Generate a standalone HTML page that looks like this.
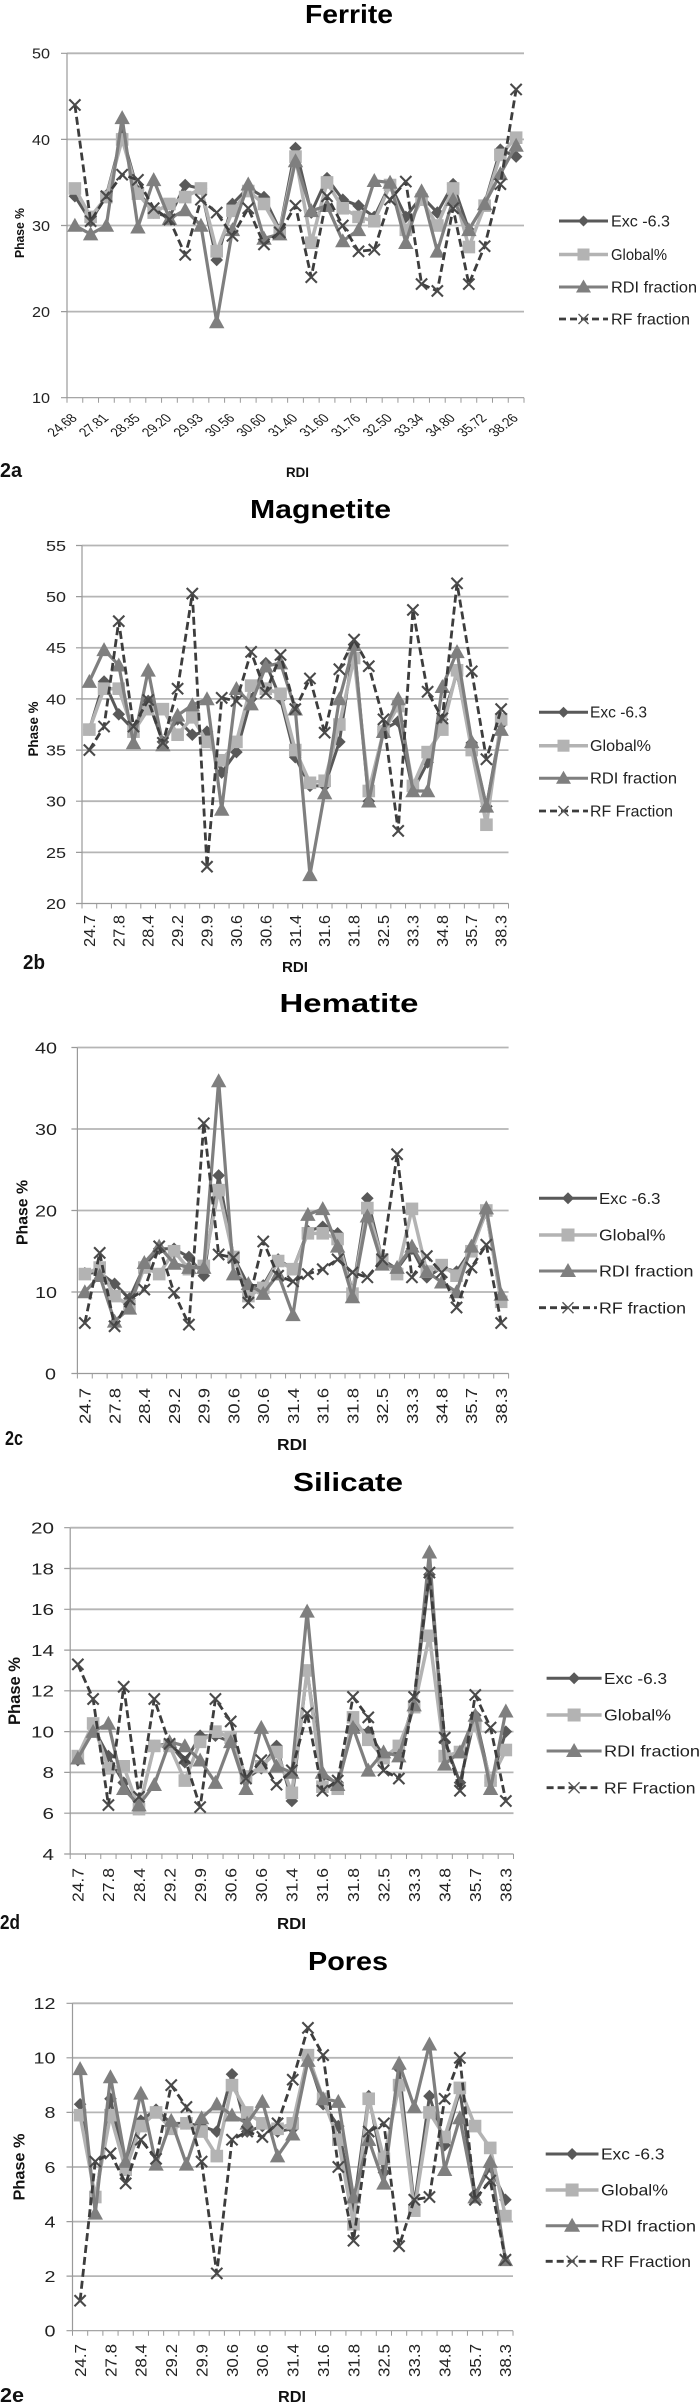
<!DOCTYPE html>
<html><head><meta charset="utf-8"><style>
html,body{margin:0;padding:0;background:#fff}
svg{display:block}
text{font-family:"Liberation Sans",sans-serif;fill:#222}
.t{font-size:26px;font-weight:bold;fill:#000}
.yl{font-size:15px;text-anchor:end}
.yl2{font-size:16px;text-anchor:end}
.xl{font-size:16px;text-anchor:end}
.fxl{font-size:12.5px;text-anchor:end;fill:#1a1a1a}
.b{font-weight:bold;fill:#111}
.lg{font-size:16px}
.grid{stroke:#b5b5b5;stroke-width:1.8}
.ax{stroke:#9a9a9a;stroke-width:1.2;fill:none}
polyline{fill:none;stroke-linejoin:round}
.se{stroke:#595959;stroke-width:3}
.sg{stroke:#b3b3b3;stroke-width:3.5}
.sr{stroke:#7f7f7f;stroke-width:3.2}
.sf{stroke:#3d3d3d;stroke-width:2.8;stroke-dasharray:8 4}
</style></head><body>
<svg width="700" height="2404" viewBox="0 0 700 2404" xmlns="http://www.w3.org/2000/svg">
<defs>
<marker id="fd" overflow="visible" markerUnits="userSpaceOnUse" markerWidth="0.7615" markerHeight="1.3937" viewBox="1.714 1.714 8.571 8.571" refX="6" refY="6" preserveAspectRatio="none"><polygon points="6,1.5 10.5,6 6,10.5 1.5,6" fill="#595959"/></marker>
<marker id="fs" overflow="visible" markerUnits="userSpaceOnUse" markerWidth="0.7615" markerHeight="1.3937" viewBox="1.714 1.714 8.571 8.571" refX="6" refY="6" preserveAspectRatio="none"><rect x="1.5" y="1.5" width="9" height="9" fill="#b3b3b3"/></marker>
<marker id="ft" overflow="visible" markerUnits="userSpaceOnUse" markerWidth="0.7615" markerHeight="1.3937" viewBox="1.714 1.714 8.571 8.571" refX="6" refY="6" preserveAspectRatio="none"><polygon points="0.5,1.5 11.5,1.5 6,11.5" fill="#7f7f7f"/></marker>
<marker id="fx" overflow="visible" markerUnits="userSpaceOnUse" markerWidth="0.7615" markerHeight="1.3937" viewBox="1.714 1.714 8.571 8.571" refX="6" refY="6" preserveAspectRatio="none"><path d="M2,2 L10,10 M10,2 L2,10" stroke="#4a4a4a" stroke-width="1.5" fill="none"/></marker>
<marker id="md" overflow="visible" markerUnits="userSpaceOnUse" markerWidth="0.8159" markerHeight="1.1731" viewBox="1.714 1.714 8.571 8.571" refX="6" refY="6" preserveAspectRatio="none"><polygon points="6,1.5 10.5,6 6,10.5 1.5,6" fill="#595959"/></marker>
<marker id="ms" overflow="visible" markerUnits="userSpaceOnUse" markerWidth="0.8159" markerHeight="1.1731" viewBox="1.714 1.714 8.571 8.571" refX="6" refY="6" preserveAspectRatio="none"><rect x="1.5" y="1.5" width="9" height="9" fill="#b3b3b3"/></marker>
<marker id="mt" overflow="visible" markerUnits="userSpaceOnUse" markerWidth="0.8159" markerHeight="1.1731" viewBox="1.714 1.714 8.571 8.571" refX="6" refY="6" preserveAspectRatio="none"><polygon points="0.5,1.5 11.5,1.5 6,11.5" fill="#7f7f7f"/></marker>
<marker id="mx" overflow="visible" markerUnits="userSpaceOnUse" markerWidth="0.8159" markerHeight="1.1731" viewBox="1.714 1.714 8.571 8.571" refX="6" refY="6" preserveAspectRatio="none"><path d="M2,2 L10,10 M10,2 L2,10" stroke="#4a4a4a" stroke-width="1.5" fill="none"/></marker>
<marker id="hd" overflow="visible" markerUnits="userSpaceOnUse" markerWidth="0.8071" markerHeight="1.4724" viewBox="1.714 1.714 8.571 8.571" refX="6" refY="6" preserveAspectRatio="none"><polygon points="6,1.5 10.5,6 6,10.5 1.5,6" fill="#595959"/></marker>
<marker id="hs" overflow="visible" markerUnits="userSpaceOnUse" markerWidth="0.8071" markerHeight="1.4724" viewBox="1.714 1.714 8.571 8.571" refX="6" refY="6" preserveAspectRatio="none"><rect x="1.5" y="1.5" width="9" height="9" fill="#b3b3b3"/></marker>
<marker id="ht" overflow="visible" markerUnits="userSpaceOnUse" markerWidth="0.8071" markerHeight="1.4724" viewBox="1.714 1.714 8.571 8.571" refX="6" refY="6" preserveAspectRatio="none"><polygon points="0.5,1.5 11.5,1.5 6,11.5" fill="#7f7f7f"/></marker>
<marker id="hx" overflow="visible" markerUnits="userSpaceOnUse" markerWidth="0.8071" markerHeight="1.4724" viewBox="1.714 1.714 8.571 8.571" refX="6" refY="6" preserveAspectRatio="none"><path d="M2,2 L10,10 M10,2 L2,10" stroke="#4a4a4a" stroke-width="1.5" fill="none"/></marker>
<marker id="sd" overflow="visible" markerUnits="userSpaceOnUse" markerWidth="0.7850" markerHeight="0.5884" viewBox="1.714 1.714 8.571 8.571" refX="6" refY="6" preserveAspectRatio="none"><polygon points="6,1.5 10.5,6 6,10.5 1.5,6" fill="#595959"/></marker>
<marker id="ss" overflow="visible" markerUnits="userSpaceOnUse" markerWidth="0.7850" markerHeight="0.5884" viewBox="1.714 1.714 8.571 8.571" refX="6" refY="6" preserveAspectRatio="none"><rect x="1.5" y="1.5" width="9" height="9" fill="#b3b3b3"/></marker>
<marker id="st" overflow="visible" markerUnits="userSpaceOnUse" markerWidth="0.7850" markerHeight="0.5884" viewBox="1.714 1.714 8.571 8.571" refX="6" refY="6" preserveAspectRatio="none"><polygon points="0.5,1.5 11.5,1.5 6,11.5" fill="#7f7f7f"/></marker>
<marker id="sx" overflow="visible" markerUnits="userSpaceOnUse" markerWidth="0.7850" markerHeight="0.5884" viewBox="1.714 1.714 8.571 8.571" refX="6" refY="6" preserveAspectRatio="none"><path d="M2,2 L10,10 M10,2 L2,10" stroke="#4a4a4a" stroke-width="1.5" fill="none"/></marker>
<marker id="pd" overflow="visible" markerUnits="userSpaceOnUse" markerWidth="0.7900" markerHeight="0.4398" viewBox="1.714 1.714 8.571 8.571" refX="6" refY="6" preserveAspectRatio="none"><polygon points="6,1.5 10.5,6 6,10.5 1.5,6" fill="#595959"/></marker>
<marker id="ps" overflow="visible" markerUnits="userSpaceOnUse" markerWidth="0.7900" markerHeight="0.4398" viewBox="1.714 1.714 8.571 8.571" refX="6" refY="6" preserveAspectRatio="none"><rect x="1.5" y="1.5" width="9" height="9" fill="#b3b3b3"/></marker>
<marker id="pt" overflow="visible" markerUnits="userSpaceOnUse" markerWidth="0.7900" markerHeight="0.4398" viewBox="1.714 1.714 8.571 8.571" refX="6" refY="6" preserveAspectRatio="none"><polygon points="0.5,1.5 11.5,1.5 6,11.5" fill="#7f7f7f"/></marker>
<marker id="px" overflow="visible" markerUnits="userSpaceOnUse" markerWidth="0.7900" markerHeight="0.4398" viewBox="1.714 1.714 8.571 8.571" refX="6" refY="6" preserveAspectRatio="none"><path d="M2,2 L10,10 M10,2 L2,10" stroke="#4a4a4a" stroke-width="1.5" fill="none"/></marker>
</defs>
<rect width="700" height="2404" fill="#fff"/>

<!-- ===================== FERRITE ===================== -->
<text class="t" x="305" y="23" textLength="88" lengthAdjust="spacingAndGlyphs">Ferrite</text>
<g>
<line class="grid" x1="67" y1="53.3" x2="524" y2="53.3"/>
<line class="grid" x1="67" y1="139.4" x2="524" y2="139.4"/>
<line class="grid" x1="67" y1="225.5" x2="524" y2="225.5"/>
<line class="grid" x1="67" y1="311.6" x2="524" y2="311.6"/>
<line class="ax" x1="67" y1="53.3" x2="67" y2="397.7"/>
<line class="ax" x1="67" y1="397.7" x2="524" y2="397.7"/>
<path class="ax" d="M61,53.3H67M61,139.4H67M61,225.5H67M61,311.6H67M61,397.7H67"/>
<line x1="66.5" y1="400.2" x2="525" y2="400.2" stroke="#9a9a9a" stroke-width="5" stroke-dasharray="1 14.759"/>
</g>
<text class="yl" x="50" y="58.7" textLength="18" lengthAdjust="spacingAndGlyphs">50</text>
<text class="yl" x="50" y="144.8" textLength="18" lengthAdjust="spacingAndGlyphs">40</text>
<text class="yl" x="50" y="230.9" textLength="18" lengthAdjust="spacingAndGlyphs">30</text>
<text class="yl" x="50" y="317" textLength="18" lengthAdjust="spacingAndGlyphs">20</text>
<text class="yl" x="50" y="403.1" textLength="18" lengthAdjust="spacingAndGlyphs">10</text>
<text class="fxl" transform="translate(77.9,419) scale(1.3,1) rotate(-45)" textLength="26" lengthAdjust="spacingAndGlyphs">24.68</text>
<text class="fxl" transform="translate(109.4,419) scale(1.3,1) rotate(-45)" textLength="26" lengthAdjust="spacingAndGlyphs">27.81</text>
<text class="fxl" transform="translate(140.9,419) scale(1.3,1) rotate(-45)" textLength="26" lengthAdjust="spacingAndGlyphs">28.35</text>
<text class="fxl" transform="translate(172.4,419) scale(1.3,1) rotate(-45)" textLength="26" lengthAdjust="spacingAndGlyphs">29.20</text>
<text class="fxl" transform="translate(204,419) scale(1.3,1) rotate(-45)" textLength="26" lengthAdjust="spacingAndGlyphs">29.93</text>
<text class="fxl" transform="translate(235.5,419) scale(1.3,1) rotate(-45)" textLength="26" lengthAdjust="spacingAndGlyphs">30.56</text>
<text class="fxl" transform="translate(267,419) scale(1.3,1) rotate(-45)" textLength="26" lengthAdjust="spacingAndGlyphs">30.60</text>
<text class="fxl" transform="translate(298.5,419) scale(1.3,1) rotate(-45)" textLength="26" lengthAdjust="spacingAndGlyphs">31.40</text>
<text class="fxl" transform="translate(330,419) scale(1.3,1) rotate(-45)" textLength="26" lengthAdjust="spacingAndGlyphs">31.60</text>
<text class="fxl" transform="translate(361.5,419) scale(1.3,1) rotate(-45)" textLength="26" lengthAdjust="spacingAndGlyphs">31.76</text>
<text class="fxl" transform="translate(393.1,419) scale(1.3,1) rotate(-45)" textLength="26" lengthAdjust="spacingAndGlyphs">32.50</text>
<text class="fxl" transform="translate(424.6,419) scale(1.3,1) rotate(-45)" textLength="26" lengthAdjust="spacingAndGlyphs">33.34</text>
<text class="fxl" transform="translate(456.1,419) scale(1.3,1) rotate(-45)" textLength="26" lengthAdjust="spacingAndGlyphs">34.80</text>
<text class="fxl" transform="translate(487.6,419) scale(1.3,1) rotate(-45)" textLength="26" lengthAdjust="spacingAndGlyphs">35.72</text>
<text class="fxl" transform="translate(519.1,419) scale(1.3,1) rotate(-45)" textLength="26" lengthAdjust="spacingAndGlyphs">38.26</text>
<text class="b" font-size="13" text-anchor="middle" transform="translate(24,233) rotate(-90)" textLength="50" lengthAdjust="spacingAndGlyphs">Phase %</text>
<text class="b" font-size="14" x="286" y="477" textLength="23" lengthAdjust="spacingAndGlyphs">RDI</text>
<text class="b" font-size="20" x="0" y="477" textLength="22" lengthAdjust="spacingAndGlyphs">2a</text>
<g transform="translate(67,397.7) scale(15.759,-8.61) translate(0,-10)">
<polyline class="se" vector-effect="non-scaling-stroke" marker-start="url(#fd)" marker-mid="url(#fd)" marker-end="url(#fd)" points="0.5,33.4 1.5,30.5 2.5,33.5 3.5,40.5 4.5,34 5.5,31.5 6.5,31 7.5,34.7 8.5,34.3 9.5,26 10.5,32.5 11.5,34.4 12.5,33.3 13.5,29.5 14.5,39 15.5,31.5 16.5,35.5 17.5,33 18.5,32.3 19.5,31 20.5,34.8 21.5,31 22.5,33.4 23.5,31.5 24.5,34.8 25.5,29.5 26.5,32.5 27.5,38.8 28.5,38"/>
<polyline class="sg" vector-effect="non-scaling-stroke" marker-start="url(#fs)" marker-mid="url(#fs)" marker-end="url(#fs)" points="0.5,34.3 1.5,31 2.5,33.3 3.5,40 4.5,33.7 5.5,31.5 6.5,32.5 7.5,33.3 8.5,34.3 9.5,27 10.5,31.7 11.5,34 12.5,32.5 13.5,29.3 14.5,38 15.5,28 16.5,35 17.5,32 18.5,31 19.5,30.5 20.5,34.7 21.5,29.5 22.5,33 23.5,30 24.5,34.3 25.5,27.5 26.5,32.3 27.5,38.2 28.5,40.2"/>
<polyline class="sr" vector-effect="non-scaling-stroke" marker-start="url(#ft)" marker-mid="url(#ft)" marker-end="url(#ft)" points="0.5,30 1.5,29 2.5,30 3.5,42.5 4.5,29.8 5.5,35.3 6.5,30.8 7.5,31.8 8.5,30 9.5,18.8 10.5,29.5 11.5,34.8 12.5,28.5 13.5,29 14.5,37.5 15.5,31.7 16.5,32.3 17.5,28.2 18.5,29.5 19.5,35.2 20.5,35 21.5,28 22.5,34 23.5,27 24.5,33 25.5,29.5 26.5,32.5 27.5,36 28.5,39.3"/>
<polyline class="sf" vector-effect="non-scaling-stroke" marker-start="url(#fx)" marker-mid="url(#fx)" marker-end="url(#fx)" points="0.5,44 1.5,30.5 2.5,33.4 3.5,35.9 4.5,35.3 5.5,32 6.5,30.7 7.5,26.6 8.5,33 9.5,31.5 10.5,28.8 11.5,32 12.5,27.8 13.5,29.2 14.5,32.3 15.5,24 16.5,33.4 17.5,30 18.5,27 19.5,27.2 20.5,33 21.5,35.1 22.5,23.2 23.5,22.4 24.5,32 25.5,23.2 26.5,27.6 27.5,34.8 28.5,45.8"/>
</g>
<line x1="559" y1="221" x2="608" y2="221" stroke="#595959" stroke-width="3"/>
<polygon points="583.5,215.5 589,221 583.5,226.5 578,221" fill="#595959"/>
<line x1="559" y1="254.5" x2="608" y2="254.5" stroke="#b3b3b3" stroke-width="3.5"/>
<rect x="577.5" y="248.5" width="12" height="12" fill="#b3b3b3"/>
<line x1="559" y1="287" x2="608" y2="287" stroke="#7f7f7f" stroke-width="3"/>
<polygon points="576,292.5 591,292.5 583.5,279.5" fill="#7f7f7f"/>
<line x1="559" y1="319" x2="608" y2="319" stroke="#3d3d3d" stroke-width="2.8" stroke-dasharray="7 4"/>
<path d="M578.5,314 L588.5,324 M588.5,314 L578.5,324" stroke="#555" stroke-width="1.4"/>
<text class="lg" font-size="15.5" x="611" y="226.5" textLength="59" lengthAdjust="spacingAndGlyphs">Exc -6.3</text>
<text class="lg" font-size="15.5" x="611" y="260" textLength="56" lengthAdjust="spacingAndGlyphs">Global%</text>
<text class="lg" font-size="15.5" x="611" y="292.5" textLength="86" lengthAdjust="spacingAndGlyphs">RDI fraction</text>
<text class="lg" font-size="15.5" x="611" y="324.5" textLength="79" lengthAdjust="spacingAndGlyphs">RF fraction</text>

<!-- ===================== MAGNETITE ===================== -->
<text class="t" x="250" y="518" textLength="141" lengthAdjust="spacingAndGlyphs">Magnetite</text>
<g>
<line class="grid" x1="82" y1="545.5" x2="508.5" y2="545.5"/>
<line class="grid" x1="82" y1="596.6" x2="508.5" y2="596.6"/>
<line class="grid" x1="82" y1="647.8" x2="508.5" y2="647.8"/>
<line class="grid" x1="82" y1="698.9" x2="508.5" y2="698.9"/>
<line class="grid" x1="82" y1="750.1" x2="508.5" y2="750.1"/>
<line class="grid" x1="82" y1="801.2" x2="508.5" y2="801.2"/>
<line class="grid" x1="82" y1="852.4" x2="508.5" y2="852.4"/>
<line class="ax" x1="82" y1="545.5" x2="82" y2="903.5"/>
<line class="ax" x1="82" y1="903.5" x2="508.5" y2="903.5"/>
<path class="ax" d="M76,545.5H82M76,596.6H82M76,647.8H82M76,698.9H82M76,750.1H82M76,801.2H82M76,852.4H82M76,903.5H82"/>
<line x1="81.5" y1="906" x2="509" y2="906" stroke="#9a9a9a" stroke-width="5" stroke-dasharray="1 13.707"/>
</g>
<text class="yl" x="66" y="550.9" textLength="20" lengthAdjust="spacingAndGlyphs">55</text>
<text class="yl" x="66" y="602" textLength="20" lengthAdjust="spacingAndGlyphs">50</text>
<text class="yl" x="66" y="653.2" textLength="20" lengthAdjust="spacingAndGlyphs">45</text>
<text class="yl" x="66" y="704.3" textLength="20" lengthAdjust="spacingAndGlyphs">40</text>
<text class="yl" x="66" y="755.5" textLength="20" lengthAdjust="spacingAndGlyphs">35</text>
<text class="yl" x="66" y="806.6" textLength="20" lengthAdjust="spacingAndGlyphs">30</text>
<text class="yl" x="66" y="857.8" textLength="20" lengthAdjust="spacingAndGlyphs">25</text>
<text class="yl" x="66" y="908.9" textLength="20" lengthAdjust="spacingAndGlyphs">20</text>
<text class="xl" x="94.9" y="915" transform="rotate(-90 94.9 915)" textLength="32" lengthAdjust="spacingAndGlyphs">24.7</text>
<text class="xl" x="124.3" y="915" transform="rotate(-90 124.3 915)" textLength="32" lengthAdjust="spacingAndGlyphs">27.8</text>
<text class="xl" x="153.7" y="915" transform="rotate(-90 153.7 915)" textLength="32" lengthAdjust="spacingAndGlyphs">28.4</text>
<text class="xl" x="183.1" y="915" transform="rotate(-90 183.1 915)" textLength="32" lengthAdjust="spacingAndGlyphs">29.2</text>
<text class="xl" x="212.5" y="915" transform="rotate(-90 212.5 915)" textLength="32" lengthAdjust="spacingAndGlyphs">29.9</text>
<text class="xl" x="241.9" y="915" transform="rotate(-90 241.9 915)" textLength="32" lengthAdjust="spacingAndGlyphs">30.6</text>
<text class="xl" x="271.3" y="915" transform="rotate(-90 271.3 915)" textLength="32" lengthAdjust="spacingAndGlyphs">30.6</text>
<text class="xl" x="300.8" y="915" transform="rotate(-90 300.8 915)" textLength="32" lengthAdjust="spacingAndGlyphs">31.4</text>
<text class="xl" x="330.2" y="915" transform="rotate(-90 330.2 915)" textLength="32" lengthAdjust="spacingAndGlyphs">31.6</text>
<text class="xl" x="359.6" y="915" transform="rotate(-90 359.6 915)" textLength="32" lengthAdjust="spacingAndGlyphs">31.8</text>
<text class="xl" x="389" y="915" transform="rotate(-90 389 915)" textLength="32" lengthAdjust="spacingAndGlyphs">32.5</text>
<text class="xl" x="418.4" y="915" transform="rotate(-90 418.4 915)" textLength="32" lengthAdjust="spacingAndGlyphs">33.3</text>
<text class="xl" x="447.8" y="915" transform="rotate(-90 447.8 915)" textLength="32" lengthAdjust="spacingAndGlyphs">34.8</text>
<text class="xl" x="477.2" y="915" transform="rotate(-90 477.2 915)" textLength="32" lengthAdjust="spacingAndGlyphs">35.7</text>
<text class="xl" x="506.7" y="915" transform="rotate(-90 506.7 915)" textLength="32" lengthAdjust="spacingAndGlyphs">38.3</text>
<text class="b" font-size="14" text-anchor="middle" transform="translate(38,729) rotate(-90)" textLength="55" lengthAdjust="spacingAndGlyphs">Phase %</text>
<text class="b" font-size="15" x="282" y="972" textLength="26" lengthAdjust="spacingAndGlyphs">RDI</text>
<text class="b" font-size="20" x="23" y="969" textLength="22" lengthAdjust="spacingAndGlyphs">2b</text>
<g transform="translate(82,903.5) scale(14.707,-10.229) translate(0,-20)">
<polyline class="se" vector-effect="non-scaling-stroke" marker-start="url(#md)" marker-mid="url(#md)" marker-end="url(#md)" points="0.5,37 1.5,41.7 2.5,38.5 3.5,37 4.5,39.8 5.5,35.8 6.5,38 7.5,36.5 8.5,36.8 9.5,32.8 10.5,34.8 11.5,40 12.5,43.5 13.5,40 14.5,34.3 15.5,31.5 16.5,31.5 17.5,35.8 18.5,45.3 19.5,30 20.5,37 21.5,37.8 22.5,31 23.5,33.8 24.5,38 25.5,42.5 26.5,35.7 27.5,29.5 28.5,37.5"/>
<polyline class="sg" vector-effect="non-scaling-stroke" marker-start="url(#ms)" marker-mid="url(#ms)" marker-end="url(#ms)" points="0.5,37 1.5,41 2.5,41 3.5,36.8 4.5,39 5.5,39 6.5,36.5 7.5,38.2 8.5,35.8 9.5,34 10.5,35.8 11.5,41.3 12.5,41 13.5,40.5 14.5,35 15.5,31.8 16.5,32 17.5,37.5 18.5,44 19.5,31 20.5,36.8 21.5,39.3 22.5,31.5 23.5,34.8 24.5,37 25.5,42.8 26.5,35 27.5,27.7 28.5,38"/>
<polyline class="sr" vector-effect="non-scaling-stroke" marker-start="url(#mt)" marker-mid="url(#mt)" marker-end="url(#mt)" points="0.5,41.7 1.5,44.8 2.5,43.3 3.5,35.7 4.5,42.8 5.5,35.5 6.5,38.4 7.5,39.4 8.5,40 9.5,29.2 10.5,41 11.5,39.5 12.5,43.2 13.5,43.5 14.5,39 15.5,22.8 16.5,30.8 17.5,40 18.5,45.3 19.5,30 20.5,36.8 21.5,40 22.5,31 23.5,31 24.5,41.2 25.5,44.6 26.5,35.8 27.5,29.5 28.5,37"/>
<polyline class="sf" vector-effect="non-scaling-stroke" marker-start="url(#mx)" marker-mid="url(#mx)" marker-end="url(#mx)" points="0.5,35 1.5,37.3 2.5,47.6 3.5,37.3 4.5,39.9 5.5,35.7 6.5,41 7.5,50.3 8.5,23.6 9.5,40.1 10.5,39.8 11.5,44.6 12.5,40.6 13.5,44.3 14.5,39 15.5,42 16.5,36.7 17.5,42.9 18.5,45.8 19.5,43.2 20.5,38 21.5,27.1 22.5,48.7 23.5,40.7 24.5,38.1 25.5,51.3 26.5,42.7 27.5,34.1 28.5,39"/>
</g>
<line x1="539" y1="712.3" x2="588" y2="712.3" stroke="#595959" stroke-width="3"/>
<polygon points="563.5,706.8 569,712.3 563.5,717.8 558,712.3" fill="#595959"/>
<line x1="539" y1="745.7" x2="588" y2="745.7" stroke="#b3b3b3" stroke-width="3.5"/>
<rect x="557.5" y="739.7" width="12" height="12" fill="#b3b3b3"/>
<line x1="539" y1="778.3" x2="588" y2="778.3" stroke="#7f7f7f" stroke-width="3"/>
<polygon points="556,783.8 571,783.8 563.5,770.8" fill="#7f7f7f"/>
<line x1="539" y1="811" x2="588" y2="811" stroke="#3d3d3d" stroke-width="2.8" stroke-dasharray="7 4"/>
<path d="M558.5,806 L568.5,816 M568.5,806 L558.5,816" stroke="#555" stroke-width="1.4"/>
<text class="lg" font-size="15" x="590" y="717.6" textLength="57" lengthAdjust="spacingAndGlyphs">Exc -6.3</text>
<text class="lg" font-size="15" x="590" y="751" textLength="61" lengthAdjust="spacingAndGlyphs">Global%</text>
<text class="lg" font-size="15" x="590" y="783.6" textLength="87" lengthAdjust="spacingAndGlyphs">RDI fraction</text>
<text class="lg" font-size="15" x="590" y="816.3" textLength="83" lengthAdjust="spacingAndGlyphs">RF Fraction</text>

<!-- ===================== HEMATITE ===================== -->
<text class="t" x="279.5" y="1012" textLength="139" lengthAdjust="spacingAndGlyphs">Hematite</text>
<g>
<line class="grid" x1="77.4" y1="1047.5" x2="508.6" y2="1047.5"/>
<line class="grid" x1="77.4" y1="1129" x2="508.6" y2="1129"/>
<line class="grid" x1="77.4" y1="1210.5" x2="508.6" y2="1210.5"/>
<line class="grid" x1="77.4" y1="1292" x2="508.6" y2="1292"/>
<line class="ax" x1="77.4" y1="1047.5" x2="77.4" y2="1373.5"/>
<line class="ax" x1="77.4" y1="1373.5" x2="508.6" y2="1373.5"/>
<path class="ax" d="M71.4,1047.5H77.4M71.4,1129H77.4M71.4,1210.5H77.4M71.4,1292H77.4M71.4,1373.5H77.4"/>
<line x1="76.9" y1="1376" x2="509.1" y2="1376" stroke="#9a9a9a" stroke-width="5" stroke-dasharray="1 13.869"/>
</g>
<text class="yl2" x="57" y="1053.3" textLength="22" lengthAdjust="spacingAndGlyphs">40</text>
<text class="yl2" x="57" y="1134.8" textLength="22" lengthAdjust="spacingAndGlyphs">30</text>
<text class="yl2" x="57" y="1216.3" textLength="22" lengthAdjust="spacingAndGlyphs">20</text>
<text class="yl2" x="57" y="1297.8" textLength="22" lengthAdjust="spacingAndGlyphs">10</text>
<text class="yl2" x="56" y="1379.3" textLength="11" lengthAdjust="spacingAndGlyphs">0</text>
<text class="xl" font-size="16.5" x="90.6" y="1388" transform="rotate(-90 90.6 1388)" textLength="36" lengthAdjust="spacingAndGlyphs">24.7</text>
<text class="xl" font-size="16.5" x="120.4" y="1388" transform="rotate(-90 120.4 1388)" textLength="36" lengthAdjust="spacingAndGlyphs">27.8</text>
<text class="xl" font-size="16.5" x="150.1" y="1388" transform="rotate(-90 150.1 1388)" textLength="36" lengthAdjust="spacingAndGlyphs">28.4</text>
<text class="xl" font-size="16.5" x="179.9" y="1388" transform="rotate(-90 179.9 1388)" textLength="36" lengthAdjust="spacingAndGlyphs">29.2</text>
<text class="xl" font-size="16.5" x="209.6" y="1388" transform="rotate(-90 209.6 1388)" textLength="36" lengthAdjust="spacingAndGlyphs">29.9</text>
<text class="xl" font-size="16.5" x="239.3" y="1388" transform="rotate(-90 239.3 1388)" textLength="36" lengthAdjust="spacingAndGlyphs">30.6</text>
<text class="xl" font-size="16.5" x="269.1" y="1388" transform="rotate(-90 269.1 1388)" textLength="36" lengthAdjust="spacingAndGlyphs">30.6</text>
<text class="xl" font-size="16.5" x="298.8" y="1388" transform="rotate(-90 298.8 1388)" textLength="36" lengthAdjust="spacingAndGlyphs">31.4</text>
<text class="xl" font-size="16.5" x="328.5" y="1388" transform="rotate(-90 328.5 1388)" textLength="36" lengthAdjust="spacingAndGlyphs">31.6</text>
<text class="xl" font-size="16.5" x="358.3" y="1388" transform="rotate(-90 358.3 1388)" textLength="36" lengthAdjust="spacingAndGlyphs">31.8</text>
<text class="xl" font-size="16.5" x="388" y="1388" transform="rotate(-90 388 1388)" textLength="36" lengthAdjust="spacingAndGlyphs">32.5</text>
<text class="xl" font-size="16.5" x="417.8" y="1388" transform="rotate(-90 417.8 1388)" textLength="36" lengthAdjust="spacingAndGlyphs">33.3</text>
<text class="xl" font-size="16.5" x="447.5" y="1388" transform="rotate(-90 447.5 1388)" textLength="36" lengthAdjust="spacingAndGlyphs">34.8</text>
<text class="xl" font-size="16.5" x="477.2" y="1388" transform="rotate(-90 477.2 1388)" textLength="36" lengthAdjust="spacingAndGlyphs">35.7</text>
<text class="xl" font-size="16.5" x="507" y="1388" transform="rotate(-90 507 1388)" textLength="36" lengthAdjust="spacingAndGlyphs">38.3</text>
<text class="b" font-size="16" text-anchor="middle" transform="translate(27.5,1212.5) rotate(-90)" textLength="65" lengthAdjust="spacingAndGlyphs">Phase %</text>
<text class="b" font-size="16" x="277" y="1450" textLength="30" lengthAdjust="spacingAndGlyphs">RDI</text>
<text class="b" font-size="20" x="5" y="1445" textLength="18" lengthAdjust="spacingAndGlyphs">2c</text>
<g transform="translate(77.4,1373.5) scale(14.869,-8.15)">
<polyline class="se" vector-effect="non-scaling-stroke" marker-start="url(#hd)" marker-mid="url(#hd)" marker-end="url(#hd)" points="0.5,12.3 1.5,12.4 2.5,11 3.5,9.2 4.5,13.2 5.5,15.3 6.5,15.3 7.5,14.3 8.5,12 9.5,24.3 10.5,14.3 11.5,10.8 12.5,10.8 13.5,14 14.5,12.8 15.5,17.5 16.5,18 17.5,17.2 18.5,10 19.5,21.5 20.5,14 21.5,12.8 22.5,15.3 23.5,11.8 24.5,13 25.5,12.5 26.5,15.2 27.5,19.8 28.5,8.8"/>
<polyline class="sg" vector-effect="non-scaling-stroke" marker-start="url(#hs)" marker-mid="url(#hs)" marker-end="url(#hs)" points="0.5,12.2 1.5,13 2.5,9.5 3.5,8.3 4.5,13 5.5,12.2 6.5,15 7.5,12.8 8.5,13.2 9.5,22.5 10.5,14.3 11.5,9.5 12.5,10.5 13.5,13.8 14.5,12.8 15.5,17.2 16.5,17.2 17.5,16.5 18.5,9.8 19.5,20.3 20.5,14 21.5,12.2 22.5,20.2 23.5,12.5 24.5,13.3 25.5,12 26.5,15 27.5,20 28.5,8.8"/>
<polyline class="sr" vector-effect="non-scaling-stroke" marker-start="url(#ht)" marker-mid="url(#ht)" marker-end="url(#ht)" points="0.5,10 1.5,12 2.5,6.4 3.5,8 4.5,13.6 5.5,15.6 6.5,13.5 7.5,13 8.5,13 9.5,35.9 10.5,12.2 11.5,11 12.5,9.8 13.5,12.2 14.5,7.2 15.5,19.5 16.5,20.2 17.5,15.6 18.5,9.4 19.5,19.3 20.5,13.4 21.5,13 22.5,15.6 23.5,12.5 24.5,11.2 25.5,10 26.5,15.6 27.5,20.3 28.5,9.7"/>
<polyline class="sf" vector-effect="non-scaling-stroke" marker-start="url(#hx)" marker-mid="url(#hx)" marker-end="url(#hx)" points="0.5,6.2 1.5,14.8 2.5,5.8 3.5,9.1 4.5,10.3 5.5,15.6 6.5,9.9 7.5,6 8.5,30.7 9.5,14.6 10.5,14.2 11.5,8.7 12.5,16.2 13.5,12 14.5,11.3 15.5,12.2 16.5,12.8 17.5,14 18.5,12.4 19.5,11.8 20.5,14 21.5,26.9 22.5,11.8 23.5,14.4 24.5,12.4 25.5,8.1 26.5,13 27.5,15.8 28.5,6.2"/>
</g>
<line x1="539" y1="1198.3" x2="597" y2="1198.3" stroke="#595959" stroke-width="3"/>
<polygon points="568,1192.3 574,1198.3 568,1204.3 562,1198.3" fill="#595959"/>
<line x1="539" y1="1235" x2="597" y2="1235" stroke="#b3b3b3" stroke-width="3.5"/>
<rect x="561.5" y="1228.5" width="13" height="13" fill="#b3b3b3"/>
<line x1="539" y1="1271" x2="597" y2="1271" stroke="#7f7f7f" stroke-width="3"/>
<polygon points="560,1277 576,1277 568,1263" fill="#7f7f7f"/>
<line x1="539" y1="1307.7" x2="597" y2="1307.7" stroke="#3d3d3d" stroke-width="2.8" stroke-dasharray="7 4"/>
<path d="M562.5,1302.2 L573.5,1313.2 M573.5,1302.2 L562.5,1313.2" stroke="#555" stroke-width="1.4"/>
<text class="lg" x="599" y="1203.9" textLength="61.5" lengthAdjust="spacingAndGlyphs">Exc -6.3</text>
<text class="lg" x="599" y="1240.6" textLength="66.5" lengthAdjust="spacingAndGlyphs">Global%</text>
<text class="lg" x="599" y="1276.6" textLength="94.5" lengthAdjust="spacingAndGlyphs">RDI fraction</text>
<text class="lg" x="599" y="1313.3" textLength="87" lengthAdjust="spacingAndGlyphs">RF fraction</text>

<!-- ===================== SILICATE ===================== -->
<text class="t" x="293" y="1491" textLength="110" lengthAdjust="spacingAndGlyphs">Silicate</text>
<g>
<line class="grid" x1="70.2" y1="1527.7" x2="513.5" y2="1527.7"/>
<line class="grid" x1="70.2" y1="1568.5" x2="513.5" y2="1568.5"/>
<line class="grid" x1="70.2" y1="1609.3" x2="513.5" y2="1609.3"/>
<line class="grid" x1="70.2" y1="1650.1" x2="513.5" y2="1650.1"/>
<line class="grid" x1="70.2" y1="1690.8" x2="513.5" y2="1690.8"/>
<line class="grid" x1="70.2" y1="1731.6" x2="513.5" y2="1731.6"/>
<line class="grid" x1="70.2" y1="1772.4" x2="513.5" y2="1772.4"/>
<line class="grid" x1="70.2" y1="1813.2" x2="513.5" y2="1813.2"/>
<line class="ax" x1="70.2" y1="1527.7" x2="70.2" y2="1854"/>
<line class="ax" x1="70.2" y1="1854" x2="513.5" y2="1854"/>
<path class="ax" d="M64.2,1527.7H70.2M64.2,1568.5H70.2M64.2,1609.3H70.2M64.2,1650.1H70.2M64.2,1690.8H70.2M64.2,1731.6H70.2M64.2,1772.4H70.2M64.2,1813.2H70.2M64.2,1854H70.2"/>
<line x1="69.7" y1="1856.5" x2="514" y2="1856.5" stroke="#9a9a9a" stroke-width="5" stroke-dasharray="1 14.286"/>
</g>
<text class="yl2" x="54" y="1533.5" textLength="23" lengthAdjust="spacingAndGlyphs">20</text>
<text class="yl2" x="54" y="1574.3" textLength="23" lengthAdjust="spacingAndGlyphs">18</text>
<text class="yl2" x="54" y="1615.1" textLength="23" lengthAdjust="spacingAndGlyphs">16</text>
<text class="yl2" x="54" y="1655.9" textLength="23" lengthAdjust="spacingAndGlyphs">14</text>
<text class="yl2" x="54" y="1696.6" textLength="23" lengthAdjust="spacingAndGlyphs">12</text>
<text class="yl2" x="54" y="1737.4" textLength="23" lengthAdjust="spacingAndGlyphs">10</text>
<text class="yl2" x="54" y="1778.2" textLength="11.5" lengthAdjust="spacingAndGlyphs">8</text>
<text class="yl2" x="54" y="1819" textLength="11.5" lengthAdjust="spacingAndGlyphs">6</text>
<text class="yl2" x="54" y="1859.8" textLength="11.5" lengthAdjust="spacingAndGlyphs">4</text>
<text class="xl" x="83.6" y="1868" transform="rotate(-90 83.6 1868)" textLength="34" lengthAdjust="spacingAndGlyphs">24.7</text>
<text class="xl" x="114.2" y="1868" transform="rotate(-90 114.2 1868)" textLength="34" lengthAdjust="spacingAndGlyphs">27.8</text>
<text class="xl" x="144.8" y="1868" transform="rotate(-90 144.8 1868)" textLength="34" lengthAdjust="spacingAndGlyphs">28.4</text>
<text class="xl" x="175.4" y="1868" transform="rotate(-90 175.4 1868)" textLength="34" lengthAdjust="spacingAndGlyphs">29.2</text>
<text class="xl" x="205.9" y="1868" transform="rotate(-90 205.9 1868)" textLength="34" lengthAdjust="spacingAndGlyphs">29.9</text>
<text class="xl" x="236.5" y="1868" transform="rotate(-90 236.5 1868)" textLength="34" lengthAdjust="spacingAndGlyphs">30.6</text>
<text class="xl" x="267.1" y="1868" transform="rotate(-90 267.1 1868)" textLength="34" lengthAdjust="spacingAndGlyphs">30.6</text>
<text class="xl" x="297.7" y="1868" transform="rotate(-90 297.7 1868)" textLength="34" lengthAdjust="spacingAndGlyphs">31.4</text>
<text class="xl" x="328.2" y="1868" transform="rotate(-90 328.2 1868)" textLength="34" lengthAdjust="spacingAndGlyphs">31.6</text>
<text class="xl" x="358.8" y="1868" transform="rotate(-90 358.8 1868)" textLength="34" lengthAdjust="spacingAndGlyphs">31.8</text>
<text class="xl" x="389.4" y="1868" transform="rotate(-90 389.4 1868)" textLength="34" lengthAdjust="spacingAndGlyphs">32.5</text>
<text class="xl" x="419.9" y="1868" transform="rotate(-90 419.9 1868)" textLength="34" lengthAdjust="spacingAndGlyphs">33.3</text>
<text class="xl" x="450.5" y="1868" transform="rotate(-90 450.5 1868)" textLength="34" lengthAdjust="spacingAndGlyphs">34.8</text>
<text class="xl" x="481.1" y="1868" transform="rotate(-90 481.1 1868)" textLength="34" lengthAdjust="spacingAndGlyphs">35.7</text>
<text class="xl" x="511.7" y="1868" transform="rotate(-90 511.7 1868)" textLength="34" lengthAdjust="spacingAndGlyphs">38.3</text>
<text class="b" font-size="16.5" text-anchor="middle" transform="translate(20,1691) rotate(-90)" textLength="68" lengthAdjust="spacingAndGlyphs">Phase %</text>
<text class="b" font-size="16" x="277" y="1929" textLength="29" lengthAdjust="spacingAndGlyphs">RDI</text>
<text class="b" font-size="20" x="0" y="1929" textLength="20" lengthAdjust="spacingAndGlyphs">2d</text>
<g transform="translate(70.2,1854) scale(15.286,-20.394) translate(0,-4)">
<polyline class="se" vector-effect="non-scaling-stroke" marker-start="url(#sd)" marker-mid="url(#sd)" marker-end="url(#sd)" points="0.5,8.6 1.5,10.2 2.5,8.8 3.5,7.5 4.5,6.2 5.5,9.3 6.5,9.4 7.5,8.5 8.5,9.8 9.5,9.8 10.5,9.5 11.5,7.7 12.5,8.2 13.5,9.3 14.5,6.6 15.5,13 16.5,7.8 17.5,7.5 18.5,10.2 19.5,10 20.5,8.8 21.5,9 22.5,11.5 23.5,17.7 24.5,9.5 25.5,7.5 26.5,10.8 27.5,7.5 28.5,10"/>
<polyline class="sg" vector-effect="non-scaling-stroke" marker-start="url(#ss)" marker-mid="url(#ss)" marker-end="url(#ss)" points="0.5,8.8 1.5,10.4 2.5,8.2 3.5,8.3 4.5,6.2 5.5,9.3 6.5,9.3 7.5,7.6 8.5,9.5 9.5,10 10.5,9.7 11.5,7.8 12.5,8.3 13.5,9 14.5,7 15.5,13 16.5,7.3 17.5,7.2 18.5,10.7 19.5,9.6 20.5,8.7 21.5,9.3 22.5,11.2 23.5,14.7 24.5,8.8 25.5,9 26.5,10.3 27.5,7.6 28.5,9.1"/>
<polyline class="sr" vector-effect="non-scaling-stroke" marker-start="url(#st)" marker-mid="url(#st)" marker-end="url(#st)" points="0.5,8.7 1.5,10 2.5,10.4 3.5,7.2 4.5,6.4 5.5,7.4 6.5,9.5 7.5,9.3 8.5,8.6 9.5,7.5 10.5,9.5 11.5,7.2 12.5,10.2 13.5,8.3 14.5,8 15.5,15.9 16.5,8 17.5,7.4 18.5,10.2 19.5,8.1 20.5,9 21.5,8.8 22.5,11.3 23.5,18.8 24.5,8.4 25.5,9 26.5,10.8 27.5,7.2 28.5,11"/>
<polyline class="sf" vector-effect="non-scaling-stroke" marker-start="url(#sx)" marker-mid="url(#sx)" marker-end="url(#sx)" points="0.5,13.3 1.5,11.6 2.5,6.4 3.5,12.2 4.5,6.8 5.5,11.6 6.5,9.4 7.5,8.7 8.5,6.3 9.5,11.6 10.5,10.5 11.5,7.7 12.5,8.6 13.5,7.4 14.5,8.1 15.5,10.9 16.5,7.1 17.5,7.6 18.5,11.7 19.5,10.7 20.5,8.1 21.5,7.7 22.5,11.7 23.5,17.8 24.5,9.7 25.5,7.1 26.5,11.8 27.5,10.2 28.5,6.6"/>
</g>
<line x1="546.6" y1="1678.3" x2="601.6" y2="1678.3" stroke="#595959" stroke-width="3"/>
<polygon points="574.1,1672.3 580.1,1678.3 574.1,1684.3 568.1,1678.3" fill="#595959"/>
<line x1="546.6" y1="1715" x2="601.6" y2="1715" stroke="#b3b3b3" stroke-width="3.5"/>
<rect x="567.6" y="1708.5" width="13" height="13" fill="#b3b3b3"/>
<line x1="546.6" y1="1751" x2="601.6" y2="1751" stroke="#7f7f7f" stroke-width="3"/>
<polygon points="566.1,1757 582.1,1757 574.1,1743" fill="#7f7f7f"/>
<line x1="546.6" y1="1787.7" x2="601.6" y2="1787.7" stroke="#3d3d3d" stroke-width="2.8" stroke-dasharray="7 4"/>
<path d="M568.6,1782.2 L579.6,1793.2 M579.6,1782.2 L568.6,1793.2" stroke="#555" stroke-width="1.4"/>
<text class="lg" x="604" y="1683.9" textLength="63" lengthAdjust="spacingAndGlyphs">Exc -6.3</text>
<text class="lg" x="604" y="1720.6" textLength="67" lengthAdjust="spacingAndGlyphs">Global%</text>
<text class="lg" x="604" y="1756.6" textLength="96" lengthAdjust="spacingAndGlyphs">RDI fraction</text>
<text class="lg" x="604" y="1793.3" textLength="91.5" lengthAdjust="spacingAndGlyphs">RF Fraction</text>

<!-- ===================== PORES ===================== -->
<text class="t" font-size="27" x="308" y="1970" textLength="80" lengthAdjust="spacingAndGlyphs">Pores</text>
<g>
<line class="grid" x1="72.5" y1="2003.3" x2="513" y2="2003.3"/>
<line class="grid" x1="72.5" y1="2057.8" x2="513" y2="2057.8"/>
<line class="grid" x1="72.5" y1="2112.4" x2="513" y2="2112.4"/>
<line class="grid" x1="72.5" y1="2167" x2="513" y2="2167"/>
<line class="grid" x1="72.5" y1="2221.6" x2="513" y2="2221.6"/>
<line class="grid" x1="72.5" y1="2276.1" x2="513" y2="2276.1"/>
<line class="ax" x1="72.5" y1="2003.3" x2="72.5" y2="2330.7"/>
<line class="ax" x1="72.5" y1="2330.7" x2="513" y2="2330.7"/>
<path class="ax" d="M66.5,2003.3H72.5M66.5,2057.8H72.5M66.5,2112.4H72.5M66.5,2167H72.5M66.5,2221.6H72.5M66.5,2276.1H72.5M66.5,2330.7H72.5"/>
<line x1="72" y1="2333.2" x2="513.5" y2="2333.2" stroke="#9a9a9a" stroke-width="5" stroke-dasharray="1 14.19"/>
</g>
<text class="yl2" x="55.5" y="2009.1" textLength="22" lengthAdjust="spacingAndGlyphs">12</text>
<text class="yl2" x="55.5" y="2063.6" textLength="22" lengthAdjust="spacingAndGlyphs">10</text>
<text class="yl2" x="55.5" y="2118.2" textLength="11" lengthAdjust="spacingAndGlyphs">8</text>
<text class="yl2" x="55.5" y="2172.8" textLength="11" lengthAdjust="spacingAndGlyphs">6</text>
<text class="yl2" x="55.5" y="2227.4" textLength="11" lengthAdjust="spacingAndGlyphs">4</text>
<text class="yl2" x="55.5" y="2281.9" textLength="11" lengthAdjust="spacingAndGlyphs">2</text>
<text class="yl2" x="55.5" y="2336.5" textLength="11" lengthAdjust="spacingAndGlyphs">0</text>
<text class="xl" x="85.9" y="2344" transform="rotate(-90 85.9 2344)" textLength="33" lengthAdjust="spacingAndGlyphs">24.7</text>
<text class="xl" x="116.3" y="2344" transform="rotate(-90 116.3 2344)" textLength="33" lengthAdjust="spacingAndGlyphs">27.8</text>
<text class="xl" x="146.7" y="2344" transform="rotate(-90 146.7 2344)" textLength="33" lengthAdjust="spacingAndGlyphs">28.4</text>
<text class="xl" x="177" y="2344" transform="rotate(-90 177 2344)" textLength="33" lengthAdjust="spacingAndGlyphs">29.2</text>
<text class="xl" x="207.4" y="2344" transform="rotate(-90 207.4 2344)" textLength="33" lengthAdjust="spacingAndGlyphs">29.9</text>
<text class="xl" x="237.8" y="2344" transform="rotate(-90 237.8 2344)" textLength="33" lengthAdjust="spacingAndGlyphs">30.6</text>
<text class="xl" x="268.2" y="2344" transform="rotate(-90 268.2 2344)" textLength="33" lengthAdjust="spacingAndGlyphs">30.6</text>
<text class="xl" x="298.6" y="2344" transform="rotate(-90 298.6 2344)" textLength="33" lengthAdjust="spacingAndGlyphs">31.4</text>
<text class="xl" x="328.9" y="2344" transform="rotate(-90 328.9 2344)" textLength="33" lengthAdjust="spacingAndGlyphs">31.6</text>
<text class="xl" x="359.3" y="2344" transform="rotate(-90 359.3 2344)" textLength="33" lengthAdjust="spacingAndGlyphs">31.8</text>
<text class="xl" x="389.7" y="2344" transform="rotate(-90 389.7 2344)" textLength="33" lengthAdjust="spacingAndGlyphs">32.5</text>
<text class="xl" x="420.1" y="2344" transform="rotate(-90 420.1 2344)" textLength="33" lengthAdjust="spacingAndGlyphs">33.3</text>
<text class="xl" x="450.5" y="2344" transform="rotate(-90 450.5 2344)" textLength="33" lengthAdjust="spacingAndGlyphs">34.8</text>
<text class="xl" x="480.8" y="2344" transform="rotate(-90 480.8 2344)" textLength="33" lengthAdjust="spacingAndGlyphs">35.7</text>
<text class="xl" x="511.2" y="2344" transform="rotate(-90 511.2 2344)" textLength="33" lengthAdjust="spacingAndGlyphs">38.3</text>
<text class="b" font-size="16" text-anchor="middle" transform="translate(24.5,2167) rotate(-90)" textLength="67" lengthAdjust="spacingAndGlyphs">Phase %</text>
<text class="b" font-size="16" x="278" y="2402" textLength="28" lengthAdjust="spacingAndGlyphs">RDI</text>
<text class="b" font-size="20" x="0" y="2402" textLength="24" lengthAdjust="spacingAndGlyphs">2e</text>
<g transform="translate(72.5,2330.7) scale(15.19,-27.283)">
<polyline class="se" vector-effect="non-scaling-stroke" marker-start="url(#pd)" marker-mid="url(#pd)" marker-end="url(#pd)" points="0.5,8.3 1.5,4.8 2.5,8.5 3.5,6 4.5,7.7 5.5,8.1 6.5,7.6 7.5,7.6 8.5,7.5 9.5,7.3 10.5,9.4 11.5,7.3 12.5,7.5 13.5,7.3 14.5,7.4 15.5,10 16.5,8.3 17.5,7.5 18.5,4.5 19.5,8.6 20.5,5.8 21.5,9.6 22.5,4.6 23.5,8.6 24.5,6.8 25.5,8.8 26.5,5 27.5,6 28.5,4.8"/>
<polyline class="sg" vector-effect="non-scaling-stroke" marker-start="url(#ps)" marker-mid="url(#ps)" marker-end="url(#ps)" points="0.5,7.9 1.5,4.9 2.5,7.9 3.5,5.9 4.5,7.5 5.5,8 6.5,7.4 7.5,7.6 8.5,7.3 9.5,6.4 10.5,9 11.5,8 12.5,7.6 13.5,7.4 14.5,7.6 15.5,10.1 16.5,8.5 17.5,7 18.5,3.9 19.5,8.5 20.5,6.3 21.5,9 22.5,4.4 23.5,8 24.5,7.1 25.5,8.9 26.5,7.5 27.5,6.7 28.5,4.2"/>
<polyline class="sr" vector-effect="non-scaling-stroke" marker-start="url(#pt)" marker-mid="url(#pt)" marker-end="url(#pt)" points="0.5,9.6 1.5,4.3 2.5,9.3 3.5,6.2 4.5,8.7 5.5,6.1 6.5,7.7 7.5,6.1 8.5,7.8 9.5,8.3 10.5,7.9 11.5,7.6 12.5,8.4 13.5,6.4 14.5,7.2 15.5,9.9 16.5,8.5 17.5,8.4 18.5,4.9 19.5,7 20.5,5.4 21.5,9.8 22.5,8.2 23.5,10.5 24.5,5.9 25.5,7.8 26.5,4.9 27.5,6.2 28.5,2.6"/>
<polyline class="sf" vector-effect="non-scaling-stroke" marker-start="url(#px)" marker-mid="url(#px)" marker-end="url(#px)" points="0.5,1.1 1.5,6.2 2.5,6.5 3.5,5.4 4.5,7 5.5,6.3 6.5,9 7.5,8.2 8.5,6.2 9.5,2.1 10.5,7 11.5,7.3 12.5,7.1 13.5,7.6 14.5,9.2 15.5,11.1 16.5,10.1 17.5,6 18.5,3.3 19.5,7.3 20.5,7.6 21.5,3.1 22.5,4.8 23.5,4.9 24.5,8.5 25.5,10 26.5,4.8 27.5,5.5 28.5,2.6"/>
</g>
<line x1="545.7" y1="2154" x2="598.5" y2="2154" stroke="#595959" stroke-width="3"/>
<polygon points="572.1,2148 578.1,2154 572.1,2160 566.1,2154" fill="#595959"/>
<line x1="545.7" y1="2190" x2="598.5" y2="2190" stroke="#b3b3b3" stroke-width="3.5"/>
<rect x="565.6" y="2183.5" width="13" height="13" fill="#b3b3b3"/>
<line x1="545.7" y1="2225.7" x2="598.5" y2="2225.7" stroke="#7f7f7f" stroke-width="3"/>
<polygon points="564.1,2231.7 580.1,2231.7 572.1,2217.7" fill="#7f7f7f"/>
<line x1="545.7" y1="2261.3" x2="598.5" y2="2261.3" stroke="#3d3d3d" stroke-width="2.8" stroke-dasharray="7 4"/>
<path d="M566.6,2255.8 L577.6,2266.8 M577.6,2255.8 L566.6,2266.8" stroke="#555" stroke-width="1.4"/>
<text class="lg" x="601" y="2159.6" textLength="63.5" lengthAdjust="spacingAndGlyphs">Exc -6.3</text>
<text class="lg" x="601" y="2195.6" textLength="67" lengthAdjust="spacingAndGlyphs">Global%</text>
<text class="lg" x="601" y="2231.3" textLength="95" lengthAdjust="spacingAndGlyphs">RDI fraction</text>
<text class="lg" x="601" y="2266.9" textLength="90" lengthAdjust="spacingAndGlyphs">RF Fraction</text>
</svg>
</body></html>
